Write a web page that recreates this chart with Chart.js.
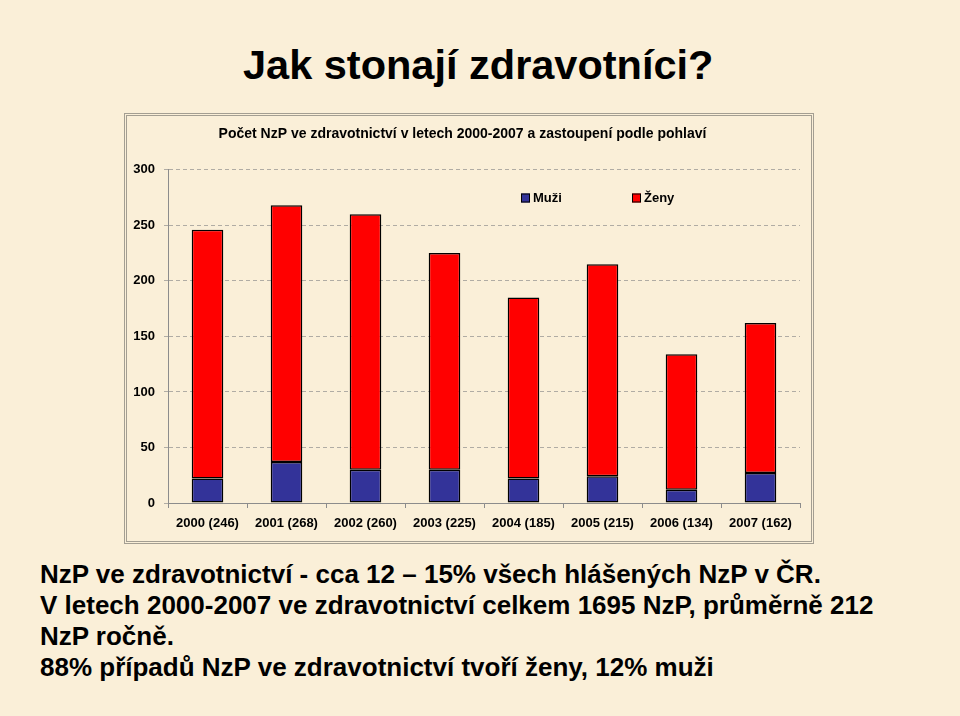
<!DOCTYPE html>
<html lang="cs">
<head>
<meta charset="utf-8">
<title>Jak stonají zdravotníci?</title>
<script src="https://cdn.jsdelivr.net/npm/chart.js@4.4.1/dist/chart.umd.min.js"></script>
<style>
  html, body { margin: 0; padding: 0; }
  body {
    width: 960px; height: 716px; position: relative; overflow: hidden;
    background: #faefd8;
    font-family: 'Liberation Sans', Arial, sans-serif;
    color: #000;
  }
  #nadpis {
    position: absolute; left: 243px; top: 40px;
    font-size: 41.5px; font-weight: bold; line-height: 50px; white-space: nowrap;
  }
  #ramecek {
    position: absolute; left: 124px; top: 113px; width: 690px; height: 431px;
    box-sizing: border-box; border: 3px double #a39e92; pointer-events: none;
  }
  #graf { position: absolute; left: 125px; top: 114px; }
  #text {
    position: absolute; left: 40px; top: 559px; width: 910px;
    font-size: 26px; font-weight: bold; line-height: 31px; white-space: nowrap;
  }
</style>
</head>
<body>
<div id="nadpis">Jak stonají zdravotníci?</div>
<canvas id="graf" width="687" height="429"></canvas>
<div id="ramecek"></div>
<div id="text">
  NzP ve zdravotnictví - cca 12 – 15% všech hlášených NzP v ČR.<br>
  V letech 2000-2007 ve zdravotnictví celkem 1695 NzP, průměrně 212<br>
  NzP ročně.<br>
  88% případů NzP ve zdravotnictví tvoří ženy, 12% muži
</div>
<script>
'use strict';

const roky = ['2000 (246)', '2001 (268)', '2002 (260)', '2003 (225)',
              '2004 (185)', '2005 (215)', '2006 (134)', '2007 (162)'];
const muzi = [22, 37, 30, 30, 22, 24, 12, 27];
const zeny = [224, 231, 230, 195, 163, 191, 122, 135];
const osaY = [0, 50, 100, 150, 200, 250, 300];

const pismo = "'Liberation Sans', Arial, sans-serif";

// legenda je v reference uvnitr plochy grafu
const legendaUvnitr = {
    id: 'legendaUvnitr',
    afterDraw(chart) {
        const ctx = chart.ctx;
        const pozice = [396, 507];
        ctx.save();
        ctx.font = 'bold 13px ' + pismo;
        ctx.textBaseline = 'middle';
        chart.data.datasets.forEach((ds, i) => {
            const x = pozice[i];
            const y = 84;
            ctx.fillStyle = ds.backgroundColor;
            ctx.fillRect(x, y - 4.5, 9, 9);
            ctx.strokeStyle = '#000';
            ctx.lineWidth = 1;
            ctx.strokeRect(x + 0.5, y - 4, 8, 8);
            ctx.fillStyle = '#000';
            ctx.fillText(ds.label, x + 12, y + 0.5);
        });
        ctx.restore();
    }
};

const ctx = document.getElementById('graf').getContext('2d');

new Chart(ctx, {
    type: 'bar',
    data: {
        labels: roky,
        datasets: [
            {
                label: 'Muži',
                data: muzi,
                backgroundColor: '#333399',
                borderColor: '#000',
                borderWidth: 1.5,
                borderSkipped: false,
            },
            {
                label: 'Ženy',
                data: zeny,
                backgroundColor: '#ff0000',
                borderColor: '#000',
                borderWidth: 1.5,
                borderSkipped: false,
            },
        ]
    },
    options: {
        responsive: false,
        animation: false,
        barPercentage: 0.4,
        categoryPercentage: 1,
        layout: { padding: { left: 0, right: 12, top: 0, bottom: 0 } },
        plugins: {
            legend: { display: false },
            tooltip: { enabled: false },
            title: {
                display: true,
                text: 'Počet NzP ve zdravotnictví v letech 2000-2007 a zastoupení podle pohlaví',
                color: '#000',
                font: { family: pismo, size: 14, weight: 'bold' },
                padding: { top: 12, bottom: 27 }
            }
        },
        scales: {
            x: {
                stacked: true,
                grid: {
                    drawOnChartArea: false,
                    drawTicks: true,
                    tickLength: 5,
                    color: '#8c8c8c',
                    offset: true
                },
                border: { color: '#8c8c8c' },
                ticks: {
                    color: '#000',
                    padding: 8,
                    maxRotation: 0,
                    autoSkip: false,
                    font: { family: pismo, size: 13, weight: 'bold' }
                },
                afterFit: (scale) => { scale.height = 40; }
            },
            y: {
                stacked: true,
                min: osaY[0],
                max: osaY[osaY.length - 1],
                afterBuildTicks: (scale) => { scale.ticks = osaY.map(v => ({ value: v })); },
                grid: { color: '#b0aca4', tickLength: 4 },
                border: { color: '#8c8c8c', dash: [4, 3] },
                ticks: {
                    color: '#000',
                    padding: 9,
                    font: { family: pismo, size: 13, weight: 'bold' }
                },
                afterFit: (scale) => { scale.width = 43; }
            }
        }
    },
    plugins: [legendaUvnitr]
});
</script>
</body>
</html>
